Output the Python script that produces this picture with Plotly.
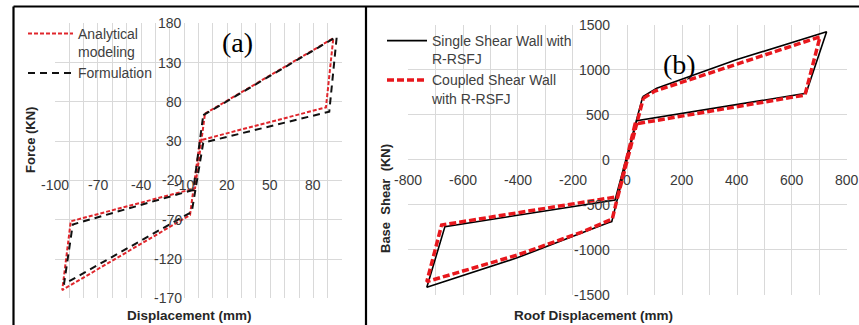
import plotly.graph_objects as go

# ---- (a) Force-displacement loop ----
analytical_x = [4.5, 93.8, 88.7, 1.0, -5.9, -94.8, -88.9, -2.4, 4.5]
analytical_y = [65, 161, 73, 31, -64, -159.5, -72, -30, 65]
formulation_x = [3.3, 96.2, 91.0, 3.3, -4.7, -93.6, -87.5, -3.6, 3.3]
formulation_y = [63, 163, 67.5, 28, -60, -152, -76, -32, 63]

a_xticks = [-100, -70, -40, -10, 20, 50, 80]
a_yticks = [-170, -120, -70, -20, 30, 80, 130, 180]

# ---- (b) Base shear vs roof displacement ----
single_x = [56, 107, 400, 727, 652, 34, -57, -70, -170, -400, -732, -666, -45, 56]
single_y = [698, 791, 1110, 1420, 735, 431, -691, -703, -820, -1090, -1420, -746, -450, 698]
coupled_x = [58, 100, 400, 703, 648, 28, -55, -160, -400, -732, -678, -35, 58]
coupled_y = [679, 760, 1060, 1364, 716, 394, -660, -800, -1060, -1357, -728, -413, 679]

b_xticks = [-800, -600, -400, -200, 0, 200, 400, 600, 800]
b_yticks = [-1500, -1000, -500, 0, 500, 1000, 1500]

W, H = 859, 325
FONT = "Liberation Sans"
TICK_COLOR = "#3a3a3a"
GRID = "#d9d9d9"


def px_x(p):
    return p / W


def px_y(p):
    return (H - p) / H


fig = go.Figure()

fig.add_trace(go.Scatter(
    x=analytical_x, y=analytical_y, mode="lines", name="Analytical<br>modeling",
    line=dict(color="#e0262c", width=2, dash="4px,2px"),
    xaxis="x", yaxis="y", legend="legend"))
fig.add_trace(go.Scatter(
    x=formulation_x, y=formulation_y, mode="lines", name="Formulation",
    line=dict(color="#111111", width=2, dash="7px,5px"),
    xaxis="x", yaxis="y", legend="legend"))

fig.add_trace(go.Scatter(
    x=single_x, y=single_y, mode="lines", name="Single Shear Wall with<br>R-RSFJ",
    line=dict(color="#000000", width=1.6),
    xaxis="x2", yaxis="y2", legend="legend2"))
fig.add_trace(go.Scatter(
    x=coupled_x, y=coupled_y, mode="lines", name="Coupled Shear Wall<br>with R-RSFJ",
    line=dict(color="#e8171d", width=3.5, dash="7px,3px"),
    xaxis="x2", yaxis="y2", legend="legend2"))

axis_common = dict(showgrid=True, gridcolor=GRID, gridwidth=1, zeroline=False,
                   showline=False, ticks="", showticklabels=False, fixedrange=True)

fig.update_layout(
    width=W, height=H,
    margin=dict(l=0, r=0, t=0, b=0),
    paper_bgcolor="white", plot_bgcolor="white",
    font=dict(family=FONT, size=14, color=TICK_COLOR),
    xaxis=dict(domain=[px_x(54.8), px_x(342.2)], range=[-100, 100],
               tick0=-100, dtick=10, anchor="y", **axis_common),
    yaxis=dict(domain=[px_y(298.3), px_y(23.3)], range=[-170, 180],
               tick0=-170, dtick=50, anchor="x", **axis_common),
    xaxis2=dict(domain=[px_x(408.2), px_x(846.6)], range=[-800, 800],
                tick0=-800, dtick=100, anchor="y2", **axis_common),
    yaxis2=dict(domain=[px_y(294.5), px_y(24.5)], range=[-1500, 1500],
                tick0=-1500, dtick=500, anchor="x2", **axis_common),
    legend=dict(x=px_x(23), y=px_y(18), xanchor="left", yanchor="top",
                bgcolor="rgba(0,0,0,0)", borderwidth=0, valign="top",
                itemwidth=45, tracegroupgap=1,
                font=dict(family=FONT, size=14, color="#404040")),
    legend2=dict(x=px_x(382), y=px_y(25), xanchor="left", yanchor="top",
                 bgcolor="rgba(0,0,0,0)", borderwidth=0, valign="top",
                 itemwidth=40, tracegroupgap=0,
                 font=dict(family=FONT, size=14, color="#404040")),
    showlegend=True,
)

ann = []
# tick labels placed next to the axes that cross at zero
for v in a_xticks:
    ann.append(dict(x=v, y=-25.8, xref="x", yref="y", text=str(v), showarrow=False,
                    xanchor="center", yanchor="middle",
                    font=dict(family=FONT, size=14, color=TICK_COLOR)))
for v in a_yticks:
    ann.append(dict(x=-10.3, y=v, xref="x", yref="y", text=str(v), showarrow=False,
                    xanchor="right", yanchor="middle",
                    font=dict(family=FONT, size=14, color=TICK_COLOR)))
for v in b_xticks:
    ann.append(dict(x=v, y=-228, xref="x2", yref="y2", text=str(v), showarrow=False,
                    xanchor="center", yanchor="middle",
                    font=dict(family=FONT, size=14, color=TICK_COLOR)))
for v in b_yticks:
    ann.append(dict(x=-57, y=v, xref="x2", yref="y2", text=str(v), showarrow=False,
                    xanchor="right", yanchor="middle",
                    font=dict(family=FONT, size=14, color=TICK_COLOR)))

title_font = dict(family=FONT, size=13.5, color="#262626")
ann += [
    dict(x=px_x(189.5), y=px_y(315), xref="paper", yref="paper", text="<b>Displacement (mm)</b>",
         showarrow=False, xanchor="center", yanchor="middle", font=title_font),
    dict(x=px_x(593), y=px_y(315), xref="paper", yref="paper", text="<b>Roof Displacement (mm)</b>",
         showarrow=False, xanchor="center", yanchor="middle", font=title_font),
    dict(x=px_x(30), y=px_y(140), xref="paper", yref="paper", text="<b>Force (KN)</b>",
         textangle=-90, showarrow=False, xanchor="center", yanchor="middle",
         font=dict(family=FONT, size=13, color="#262626")),
    dict(x=px_x(385), y=px_y(199), xref="paper", yref="paper",
         text="<b>Base\u00a0\u00a0Shear\u00a0\u00a0(KN)</b>",
         textangle=-90, showarrow=False, xanchor="center", yanchor="middle",
         font=dict(family=FONT, size=13, color="#262626")),
    dict(x=px_x(238), y=px_y(42), xref="paper", yref="paper", text="(a)",
         showarrow=False, xanchor="center", yanchor="middle",
         font=dict(family="Liberation Serif", size=28, color="#000000")),
    dict(x=px_x(679), y=px_y(65), xref="paper", yref="paper", text="(b)",
         showarrow=False, xanchor="center", yanchor="middle",
         font=dict(family="Liberation Serif", size=28, color="#000000")),
]
fig.update_layout(annotations=ann)

# panel frames
frame = dict(type="line", xref="paper", yref="paper", line=dict(color="#000000", width=2.2))
fig.update_layout(shapes=[
    dict(frame, x0=px_x(13.5), x1=1, y0=px_y(6.5), y1=px_y(6.5)),
    dict(frame, x0=px_x(13.5), x1=px_x(13.5), y0=0, y1=px_y(6.5)),
    dict(frame, x0=px_x(366), x1=px_x(366), y0=0, y1=px_y(6.5)),
])

fig.write_html("out.html")
